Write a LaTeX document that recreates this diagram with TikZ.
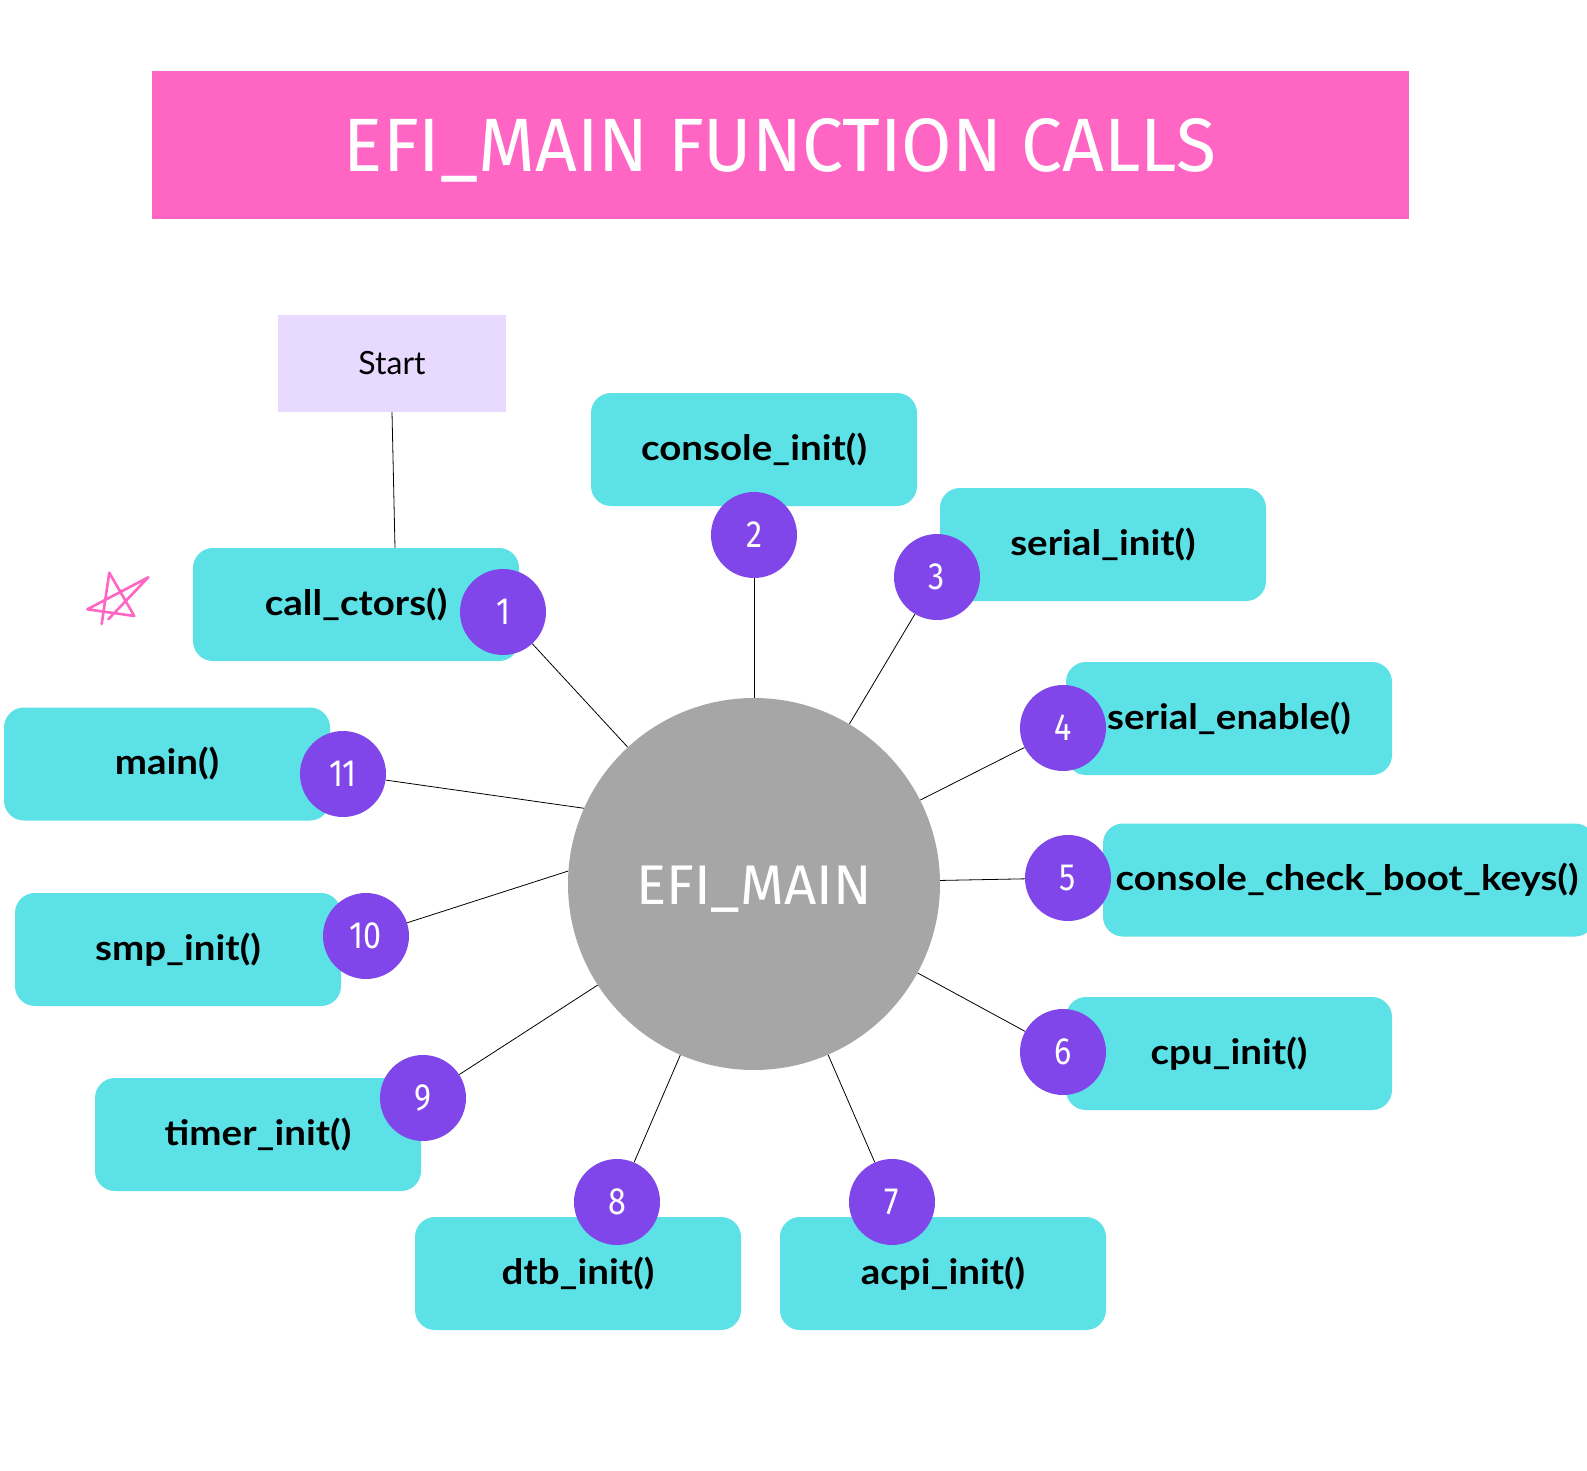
\documentclass[tikz,border=0pt]{standalone}
\usepackage{fontspec}
\usepackage{graphicx}
\setmainfont{Lato}
\newfontfamily\sqfont{Fira Sans}
\usetikzlibrary{backgrounds}
\definecolor{tealbox}{HTML}{5CE1E6}
\definecolor{purp}{HTML}{8046E9}
\definecolor{pinkt}{HTML}{FF66C4}
\definecolor{lav}{HTML}{E8DAFF}
\definecolor{greyc}{HTML}{A6A6A6}
\newcommand\bnum[1]{\scalebox{0.85}[1]{\sqfont\fontsize{38}{38}\selectfont #1}}
\newcommand\fnl[1]{\scalebox{1.1}[1]{\bfseries\fontsize{35}{40}\selectfont #1}}
\tikzset{
  fnbox/.style={fill=tealbox, rounded corners=20pt, minimum width=326pt, minimum height=113pt,
    inner sep=0pt},
  badge/.style={circle, fill=purp, minimum size=86pt, inner sep=0pt, text=white},
  conn/.style={draw=black, line width=0.8pt},
}
\begin{document}
\begin{tikzpicture}[x=1pt,y=-1pt]
\useasboundingbox (0,0) rectangle (1587,1471);
% title
\fill[pinkt] (152,71) rectangle (1409,219);
\node[anchor=base, text=white, inner sep=0pt] (title) at (780,172)
  {\resizebox{872pt}{53pt}{\sqfont EFI\_MAIN FUNCTION CALLS}};
% start
\node[fill=lav, minimum width=228pt, minimum height=97pt, inner sep=0pt,
  font=\fontsize{32}{38}\selectfont] (start) at (392,363.5) {\raisebox{1pt}{Start}};
% boxes
\node[fnbox] (b2) at (754,449.5) {\fnl{console\_init()}};
\node[fnbox] (b3) at (1103,544.5) {\fnl{serial\_init()}};
\node[fnbox] (b1) at (356,604.5) {\fnl{call\_ctors()}};
\node[fnbox] (b4) at (1229,718.5) {\fnl{serial\_enable()}};
\node[fnbox] (b11) at (167,764) {\fnl{main()}};
\node[fnbox, minimum width=492pt] (b5) at (1349,880) {};
\node[inner sep=0pt] (t5) at (1347,880) {\fnl{console\_check\_boot\_keys()}};
\node[fnbox] (b10) at (178,949.5) {\fnl{smp\_init()}};
\node[fnbox] (b6) at (1229,1053.5) {\fnl{cpu\_init()}};
\node[fnbox] (b9) at (258,1134.5) {\fnl{timer\_init()}};
\node[fnbox] (b8) at (578,1273.5) {\fnl{dtb\_init()}};
\node[fnbox] (b7) at (943,1273.5) {\fnl{acpi\_init()}};
% badges
\node[badge] (n1) at (503,612) {\bnum{1}};
\node[badge] (n2) at (754,535) {\bnum{2}};
\node[badge] (n3) at (937,577) {\bnum{3}};
\node[badge] (n4) at (1063,728) {\bnum{4}};
\node[badge] (n5) at (1068,878) {\bnum{5}};
\node[badge] (n6) at (1063,1052) {\bnum{6}};
\node[badge] (n7) at (892,1202) {\bnum{7}};
\node[badge] (n8) at (617,1202) {\bnum{8}};
\node[badge] (n9) at (423,1098) {\bnum{9}};
\node[badge] (n10) at (366,936) {\bnum{10}};
\node[badge] (n11) at (343,774) {\bnum{11}};
% central circle
\node[circle, fill=greyc, minimum size=372pt, inner sep=0pt] (efi) at (754,884) {};
\node[anchor=base, text=white, inner sep=0pt] (efit) at (754,904)
  {\resizebox{235pt}{38.5pt}{\sqfont EFI\_MAIN}};
% connectors
\begin{scope}[on background layer]
\fill[white] (0,0) rectangle (1587,1471);
\draw[conn] (start.south) -- ([xshift=39pt]b1.north);
\foreach \i in {1,...,9} { \draw[conn] (efi) -- (n\i); }
\draw[conn] (efi.176) -- (n10);
\draw[conn] (efi.156) -- (n11);
\end{scope}
% star
\draw[pinkt, line width=2.6pt, line join=round, line cap=round]
  (101.7,624) -- (109.3,572.7) -- (134.3,616) -- (87.3,609.3) -- (148.3,577.3) -- (108.3,619.3);
\end{tikzpicture}
\end{document}
